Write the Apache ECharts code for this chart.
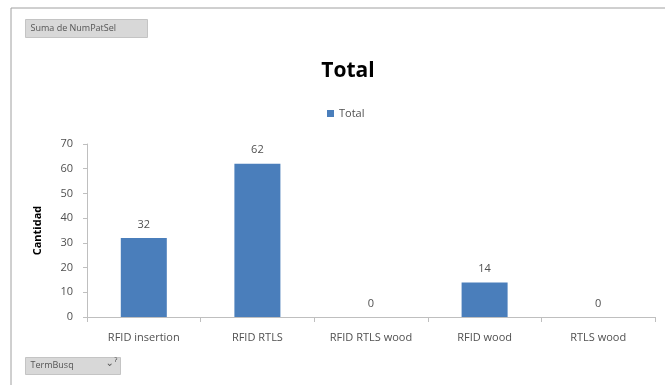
<!DOCTYPE html>
<html>
<head>
<meta charset="utf-8">
<script src="https://cdn.jsdelivr.net/npm/echarts@6/dist/echarts.min.js"></script>
<style>
  html, body { margin: 0; padding: 0; background: #fff; }
  #chart { width: 665px; height: 385px; }
</style>
</head>
<body>
<div id="chart"></div>
<script>
// data
const categories = ['RFID insertion', 'RFID RTLS', 'RFID RTLS wood', 'RFID wood', 'RTLS wood'];
const totals = [32, 62, 0, 14, 0];
const seriesName = 'Total';

const chart = echarts.init(document.getElementById('chart'));
const txt = '#505050';
const font = 'Open Sans';

const option = {
  animation: false,
  title: {
    text: 'Total',
    left: 343, top: 56, textAlign: 'center',
    textStyle: { fontFamily: font, fontSize: 21, fontWeight: 'bold', color: '#000' }
  },
  legend: {
    data: [seriesName],
    left: 322, top: 103,
    itemWidth: 7, itemHeight: 7, itemGap: 4,
    icon: 'rect',
    textStyle: { fontFamily: font, fontSize: 11, color: txt }
  },
  grid: { left: 87, right: 10, top: 144, bottom: 68 },
  xAxis: {
    type: 'category',
    data: categories,
    axisLine: { lineStyle: { color: '#bfbfbf' } },
    axisTick: { show: true, length: 5, lineStyle: { color: '#bfbfbf' } },
    axisLabel: { interval: 0, fontFamily: font, fontSize: 11, color: txt, margin: 15 }
  },
  yAxis: {
    type: 'value',
    min: 0, max: 70, interval: 10,
    name: 'Cantidad',
    nameLocation: 'middle',
    nameGap: 44,
    nameTextStyle: { fontFamily: font, fontSize: 11, fontWeight: 'bold', color: '#000' },
    axisLine: { show: true, lineStyle: { color: '#bfbfbf' } },
    axisTick: { show: true, length: 4, lineStyle: { color: '#bfbfbf' } },
    splitLine: { show: false },
    axisLabel: { fontFamily: font, fontSize: 11, color: txt, margin: 14 }
  },
  series: [{
    name: seriesName,
    type: 'bar',
    data: totals,
    barWidth: '40.5%',
    itemStyle: { color: '#4a7ebb' },
    label: {
      show: true, position: 'top', distance: 8,
      fontFamily: font, fontSize: 11, color: txt
    }
  }],
  graphic: [
    { type: 'line', shape: { x1: 11, y1: 8, x2: 665, y2: 8 }, style: { stroke: '#a0a0a0', lineWidth: 1 } },
    { type: 'line', shape: { x1: 11, y1: 8, x2: 11, y2: 385 }, style: { stroke: '#a0a0a0', lineWidth: 1 } },
    {
      type: 'group', left: 25, top: 19,
      children: [
        { type: 'rect', shape: { x: 0, y: 0, width: 122, height: 18 },
          style: { fill: '#d8d8d8', stroke: '#c4c4c4' } },
        { type: 'text', left: 5, top: 4,
          style: { text: 'Suma de NumPatSel', fontFamily: font, fontSize: 9, fill: '#555' } }
      ]
    },
    {
      type: 'group', left: 25, top: 357,
      children: [
        { type: 'rect', shape: { x: 0, y: 0, width: 95, height: 17 },
          style: { fill: '#d8d8d8', stroke: '#c4c4c4' } },
        { type: 'text', left: 5, top: 3,
          style: { text: 'TermBusq', fontFamily: font, fontSize: 9, fill: '#555' } },
        { type: 'text', left: 80, top: 1,
          style: { text: '⌄ˀ', fontFamily: 'DejaVu Sans', fontSize: 10, fill: '#555' } }
      ]
    }
  ]
};
chart.setOption(option);
</script>
</body>
</html>
